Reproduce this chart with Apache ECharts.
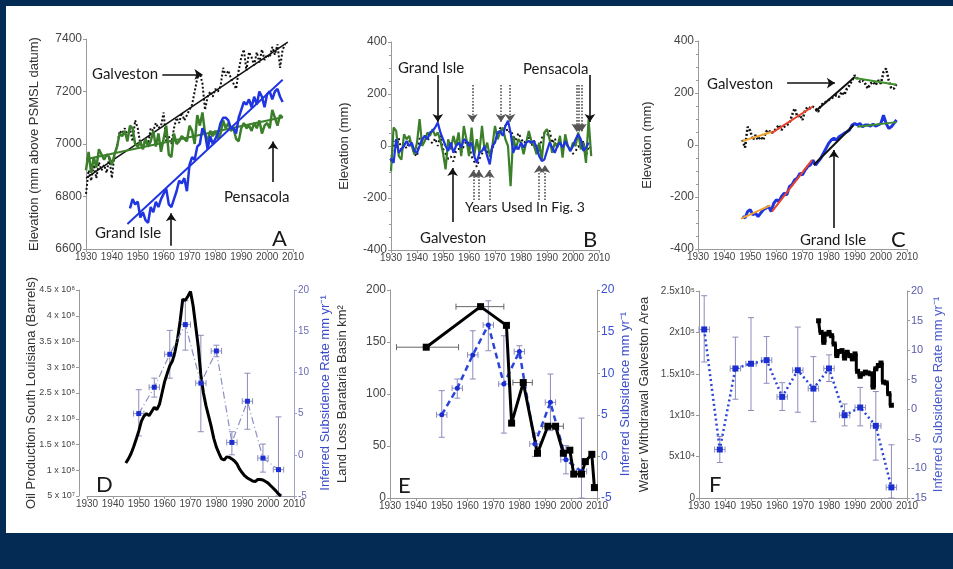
<!DOCTYPE html>
<html>
<head>
<meta charset="utf-8">
<title>Gulf coast subsidence</title>
<script src="https://cdn.jsdelivr.net/npm/echarts@6/dist/echarts.min.js"></script>
<style>
html, body { margin: 0; padding: 0; background: #042b53; }
#paper { position: absolute; left: 6px; top: 6px; width: 947px; height: 527px; background: #fff; }
#main { position: absolute; left: 0; top: 0; width: 953px; height: 569px; }
</style>
</head>
<body>
<div id="paper"></div>
<div id="main"></div>
<script>
// ---- A: annual mean sea level, mm above PSMSL datum ----
var galvStartA = 1930;
var galvestonA = [6810, 6900, 6860, 6920, 6870, 6930, 6900, 6920, 6890, 6950,
  6870, 6960, 6990, 7050, 7040, 7060, 7030, 7060, 7010, 7090,
  7060, 7000, 6990, 7020, 7000, 7060, 7050, 7080, 7060, 7070,
  7120, 7010, 7030, 7000, 7060, 7100, 7080, 7120, 7090, 7110,
  7130, 7150, 7200, 7250, 7270, 7230, 7130, 7180, 7200, 7180,
  7210, 7200, 7220, 7290, 7260, 7280, 7250, 7230, 7210, 7280,
  7330, 7360, 7280, 7350, 7330, 7300, 7350, 7310, 7360, 7320,
  7340, 7330, 7370, 7340, 7380, 7290, 7360, 7380];
var pensStartA = 1930;
var pensacolaA = [6900, 6970, 6890, 6950, 6910, 6980, 6960, 6940, 6960, 6950,
  6920, 6960, 6990, 7040, 7030, 7050, 7010, 7070, 7060, 7000,
  6990, 7010, 6980, 7020, 6990, 7010, 7050, 6990, 7040, 6970,
  7020, 7070, 6960, 6950, 7040, 7000, 7010, 7030, 7020, 7010,
  7070, 7050, 7000, 7110, 7070, 7120, 7040, 7010, 7050, 7030,
  7050, 7020, 7040, 7090, 7060, 7080, 7050, 7060, 7020, 7010,
  7060, 7080, 7060, 7070, 7050, 7080, 7060, 7090, 7040, 7070,
  7080, 7060, 7130, 7100, 7070, 7110, 7100];
var giStartA = 1947;
var grandIsleA = [6755, 6790, 6770, 6780, 6720, 6740, 6710, 6700, 6760, 6740,
  6780, 6760, 6790, 6810, 6830, 6770, 6760, 6790, 6820, 6860,
  6850, 6870, 6820, 6920, 6950, 6940, 6990, 7000, 7060, 7040,
  6980, 7030, 7000, 7020, 7040, 7080, 7100, 7100, 7090, 7060,
  7060, 7040, 7100, 7130, 7160, 7150, 7170, 7140, 7180, 7150,
  7200, 7180, 7140, 7190, 7200, 7170, 7200, 7210, 7180, 7160];
var galvTrendA = [[1930, 6870], [2008, 7388]];
var pensTrendA = [[1930, 6942], [2006, 7102]];
var giTrendA = [[1946, 6695], [2006, 7245]];

// ---- B: residuals after removing the trend, mm ----
var resStartB = 1930;
var pensacolaB = [-97, 71, 58, -39, -52, 45, 26, 39, 0, -32,
  13, 103, 0, 19, 52, 39, 65, 39, 52, 19,
  -26, -90, 26, -13, 39, 0, 52, -39, 77, 26,
  -39, 71, -39, 26, -26, 77, -19, 13, -39, 0,
  77, 26, 52, 71, 26, 0, -155, 39, -13, 26,
  13, -32, 13, 58, 19, 0, -32, 13, -52, 52,
  65, 26, -26, 13, -6, 39, -45, 45, 0, -19,
  13, 0, 52, -13, 13, -65, 103, -39];
var grandIsleB = [-45, -65, 26, -26, -13, 0, 19, 0, 13, -19,
  -26, 0, 26, 39, 26, 52, 58, 71, 90, 52,
  26, 0, -19, 13, -26, 0, 13, -6, 26, 19,
  0, 13, -39, -65, -26, -19, 0, -39, -71, 0,
  13, 52, 58, 39, 77, 97, 52, -26, 0, -13,
  13, -6, 13, 19, 13, 19, -6, -39, -58, -52,
  -19, 13, -6, -26, 0, 13, -6, 19, 0, -19,
  0, 26, 45, 26, -19, -6, 13];
var galvestonB = [-60, 20, -10, 30, -20, 10, -10, 20, 0, -30,
  -40, 30, 20, 40, 30, 20, 10, 30, 0, 40,
  -10, -30, -50, -40, -60, -20, -10, -25, 0, 20,
  10, -40, -60, -80, -50, -30, -10, -20, -40, -10,
  20, 40, 70, 60, 80, 50, 60, 40, 20, 50,
  30, 10, 20, 40, 0, 20, 0, -20, 30, 50,
  40, 60, 10, 30, 0, 20, -10, 10, 0, -20,
  -30, -20, 0, -10, 20, -40, 0, -10];

// ---- C: elevation with piecewise fits, mm ----
var startC = 1947;
var galvestonC = [20, -10, 70, 55, 19, 38, 19, 32, 19, 51,
  58, 45, 51, 64, 77, 58, 70, 77, 83, 115,
  141, 109, 115, 96, 134, 147, 141, 147, 141, 128,
  153, 160, 166, 173, 179, 185, 192, 185, 204, 192,
  217, 230, 249, 268, 256, 243, 249, 236, 217, 236,
  243, 230, 249, 236, 281, 294, 249, 217, 217, 236];
var grandIsleC = [-275, -281, -256, -249, -268, -262, -275, -262, -249, -243,
  -236, -256, -224, -211, -217, -198, -185, -192, -160, -153,
  -134, -128, -109, -115, -96, -83, -77, -58, -77, -64,
  -51, -32, -13, 6, 19, 26, 19, 32, 38, 45,
  51, 58, 77, 83, 77, 83, 70, 77, 77, 73,
  80, 73, 77, 83, 115, 83, 64, 70, 83, 96];
var galvFitsC = [[[1947, 15], [1958, 50]], [[1958, 45], [1974, 148]], [[1975, 130], [1990, 262]], [[1990, 258], [2006, 232]]];
var giFitsC = [[[1946.5, -283], [1957.7, -232]], [[1958.3, -256], [1973.6, -58]], [[1974.3, -77], [1989.6, 77]], [[1991, 70], [2006, 88]]];

// ---- D: oil production south Louisiana (units of 1e8 barrels) ----
var oilStart = 1945;
var oilProdE8 = [1.14, 1.22, 1.32, 1.45, 1.60, 1.76, 1.95, 2.05, 2.10, 2.06,
  2.14, 2.22, 2.18, 2.28, 2.50, 2.72, 2.88, 3.03, 3.12, 3.30,
  3.55, 3.90, 4.32, 4.30, 4.38, 4.47, 4.20, 3.80, 3.40, 2.85,
  2.50, 2.25, 2.05, 1.85, 1.62, 1.45, 1.33, 1.22, 1.20, 1.26,
  1.25, 1.22, 1.18, 1.12, 1.02, 0.95, 0.89, 0.85, 0.82, 0.79,
  0.78, 0.82, 0.82, 0.81, 0.78, 0.75, 0.70, 0.65, 0.60, 0.54, 0.50];
var oilTickLabels = ['5 x 10\u2077', '1 x 10\u2078', '1.5 x 10\u2078', '2 x 10\u2078', '2.5 x 10\u2078',
  '3 x 10\u2078', '3.5 x 10\u2078', '4 x 10\u2078', '4.5 x 10\u2078'];

// inferred subsidence rate, Grand Isle (D and E), mm/yr
var subsYears = [1950, 1956, 1962, 1968, 1974, 1980, 1986, 1992, 1998, 2004];
var subsRate = [5.0, 8.2, 12.2, 15.8, 8.7, 12.6, 1.5, 6.5, -0.4, -1.8];
var subsLo = [2.3, 7.0, 9.3, 12.7, 2.8, 11.9, 0.0, 3.1, -2.1, -5.0];
var subsHi = [7.9, 9.3, 15.1, 18.7, 14.5, 13.3, 2.8, 9.9, 1.3, 4.6];
var subsHalfYr = 2;

// ---- E: land loss Barataria basin, km2 ----
var lossYears = [1944, 1965, 1975, 1977, 1981.5, 1987, 1991, 1994, 1997, 1999.5, 2001, 2004, 2005.5, 2008, 2009];
var lossKm2 = [145, 184, 166, 72, 111, 43, 69, 69, 43, 46, 23, 23, 35, 42, 10];
var lossErrX = [1944, 1965, 1981.5, 1993];
var lossErrY = [145, 184, 111, 69];
var lossErrFrom = [1932.5, 1955.5, 1977.5, 1989];
var lossErrTo = [1956.5, 1974, 1985, 1997];

// ---- F: water withdrawal Galveston area (thousands) ----
var wdStart = 1976;
var withdrawalK = [214, 200, 188, 198, 200, 196, 186, 172, 177, 178,
  169, 176, 172, 168, 174, 153, 147, 150, 152, 151,
  150, 134, 156, 160, 163, 140, 139, 126, 112];
var wdTickLabels = ['0', '5x10\u2074', '1x10\u2075', '1.5x10\u2075', '2x10\u2075', '2.5x10\u2075'];

// inferred subsidence rate, Galveston, mm/yr
var gsYears = [1932, 1938, 1944, 1950, 1956, 1962, 1968, 1974, 1980, 1986, 1992, 1998, 2004];
var gsRate = [13.5, -6.8, 6.9, 7.7, 8.3, 2.1, 6.6, 3.5, 6.9, -1.0, 0.3, -2.8, -13.2];
var gsLo = [8.0, -9.0, 1.7, -0.2, 4.4, -0.2, -0.5, -2.1, 4.7, -2.8, -2.8, -8.6, -15.0];
var gsHi = [19.2, -4.6, 12.2, 15.5, 12.3, 4.5, 13.9, 8.9, 9.2, 0.9, 3.7, 3.0, -6.0];

var FONT = '"Liberation Sans", Arial, sans-serif';
var NOTE_FONT = 'Lato, "Open Sans", sans-serif';
var AXIS = '#9a9a9a';

function pairs(start, vals) {
  return vals.map(function (v, i) { return [start + i, v]; });
}
function zip(xs, ys) {
  return xs.map(function (x, i) { return [x, ys[i]]; });
}
function plain(v) { return String(v); }

function xAx(g) {
  return {
    type: 'value', gridIndex: g, min: 1930, max: 2010, interval: 10,
    axisLine: { show: true, onZero: false, lineStyle: { color: AXIS } },
    axisTick: { show: true, length: 3, lineStyle: { color: AXIS } },
    axisLabel: { fontSize: 10, color: '#444', fontFamily: FONT, margin: 3, hideOverlap: false, formatter: plain },
    splitLine: { show: false }
  };
}

function yAx(g, o) {
  return {
    type: 'value', gridIndex: g, position: o.pos || 'left', offset: o.offset || 0,
    min: o.min, max: o.max, interval: o.step,
    name: o.name, nameLocation: 'middle', nameGap: o.gap, nameRotate: 90, nameMoveOverlap: false,
    nameTextStyle: { fontSize: 13, color: o.nameColor || '#333', fontFamily: FONT },
    axisLine: { show: true, onZero: false, lineStyle: { color: o.lineColor || AXIS } },
    axisTick: { show: true, length: 3, lineStyle: { color: o.lineColor || AXIS } },
    minorTick: { show: !!o.minor, splitNumber: 4, length: 2, lineStyle: { color: AXIS } },
    axisLabel: { fontSize: o.fs || 12, color: o.labelColor || '#444', fontFamily: FONT, margin: 4,
      formatter: o.fmt || plain, hideOverlap: false },
    splitLine: { show: false }
  };
}

function line(g, yi, data, color, width, type, extra) {
  var s = {
    type: 'line', xAxisIndex: g, yAxisIndex: yi, data: data, showSymbol: false, silent: true,
    lineStyle: { color: color, width: width, type: type || 'solid' },
    itemStyle: { color: color }
  };
  for (var k in extra) s[k] = extra[k];
  return s;
}

function arrows(list, color, type) {
  return {
    silent: true, symbol: ['none', 'arrow'], symbolSize: 8, label: { show: false },
    lineStyle: { color: color, width: 1.6, type: type },
    emphasis: { disabled: true },
    data: list.map(function (a) { return [{ coord: [a[0], a[1]] }, { coord: [a[2], a[3]] }]; })
  };
}

function errSeries(g, yi, rows, color) {
  return {
    type: 'custom', xAxisIndex: g, yAxisIndex: yi, silent: true, data: rows,
    renderItem: function (params, api) {
      var x = api.value(0), y = api.value(1);
      var st = { stroke: color, lineWidth: 1 };
      var kids = [];
      function seg(x1, y1, x2, y2) {
        kids.push({ type: 'line', shape: { x1: x1, y1: y1, x2: x2, y2: y2 }, style: st });
      }
      if (api.value(2) !== api.value(3)) {
        var a = api.coord([x, api.value(2)]), b = api.coord([x, api.value(3)]);
        seg(a[0], a[1], b[0], b[1]);
        seg(a[0] - 3, a[1], a[0] + 3, a[1]);
        seg(b[0] - 3, b[1], b[0] + 3, b[1]);
      }
      var l = api.coord([api.value(4), y]), r = api.coord([api.value(5), y]);
      seg(l[0], l[1], r[0], r[1]);
      seg(l[0], l[1] - 3, l[0], l[1] + 3);
      seg(r[0], r[1] - 3, r[0], r[1] + 3);
      return { type: 'group', children: kids };
    }
  };
}

var subsRows = subsYears.map(function (yr, i) {
  return [yr, subsRate[i], subsLo[i], subsHi[i], yr - subsHalfYr, yr + subsHalfYr];
});
var gsRows = gsYears.map(function (yr, i) {
  return [yr, gsRate[i], gsLo[i], gsHi[i], yr - subsHalfYr, yr + subsHalfYr];
});
var lossRows = lossErrX.map(function (yr, i) {
  return [yr, lossErrY[i], lossErrY[i], lossErrY[i], lossErrFrom[i], lossErrTo[i]];
});

var GREEN = '#3b7f2a', BLUE = '#1f35e0', DBLUE = '#2a45d8', ERR = '#8c8cbc';
var fitColors = ['#f2a130', '#e8432c', '#111111', '#3f8f2c'];

var series = [];
// A
series.push(line(0, 0, pairs(galvStartA, galvestonA), '#111', 2, [2, 2]));
series.push(line(0, 0, galvTrendA, '#111', 1.5));
series.push(line(0, 0, pairs(pensStartA, pensacolaA), GREEN, 2.5));
series.push(line(0, 0, pensTrendA, GREEN, 2));
series.push(line(0, 0, pairs(giStartA, grandIsleA), BLUE, 2.5));
series.push(line(0, 0, giTrendA, BLUE, 2, 'solid', {
  markLine: arrows([[1959.5, 7265, 1975, 7265], [2002.3, 6855, 2002.3, 7010], [1962.9, 6612, 1962.9, 6736]], '#111', 'solid')
}));
// B
series.push(line(1, 1, pairs(resStartB, galvestonB), '#111', 2, [2, 3]));
series.push(line(1, 1, pairs(resStartB, pensacolaB), GREEN, 2.2, 'solid', {
  markLine: arrows([[1948, 273, 1948, 92], [2006.5, 273, 2006.5, 92], [1953.7, -292, 1953.7, -85]], '#111', 'solid')
}));
series.push(line(1, 1, pairs(resStartB, grandIsleB), BLUE, 2.2, 'solid', {
  markLine: arrows([[1961.3, 235, 1961.3, 92], [1972.3, 235, 1972.3, 92], [1975.8, 235, 1975.8, 92],
    [2001.4, 235, 2001.4, 55], [2002.4, 235, 2002.4, 55], [2003.3, 235, 2003.3, 55],
    [1961.7, -208, 1961.7, -92], [1963.8, -208, 1963.8, -92], [1967.8, -208, 1967.8, -92],
    [1987, -208, 1987, -73], [1989.2, -208, 1989.2, -73]], '#555', 'dotted')
}));
// C
series.push(line(2, 2, pairs(startC, galvestonC), '#111', 2.5, [2, 2]));
series.push(line(2, 2, pairs(startC, grandIsleC), BLUE, 3));
galvFitsC.forEach(function (f, i) { series.push(line(2, 2, f, fitColors[i], 2)); });
giFitsC.forEach(function (f, i) { series.push(line(2, 2, f, fitColors[i], 2)); });
series.push(line(2, 2, [], '#111', 1, 'solid', {
  markLine: arrows([[1964.1, 238, 1982.4, 238], [1982, -319, 1982, -19]], '#111', 'solid')
}));
// D
series.push(line(3, 3, pairs(oilStart, oilProdE8), '#000', 3));
series.push(errSeries(3, 4, subsRows, ERR));
series.push(line(3, 4, zip(subsYears, subsRate), '#8a8fc4', 1.2, [7, 3, 1, 3], {
  showSymbol: true, showAllSymbol: true, symbol: 'rect', symbolSize: 5, itemStyle: { color: '#1b2fd1' }
}));
// E
series.push(errSeries(4, 6, subsRows, ERR));
series.push(line(4, 6, zip(subsYears, subsRate), DBLUE, 2.5, [6, 4], {
  showSymbol: true, showAllSymbol: true, symbol: 'circle', symbolSize: 5, itemStyle: { color: '#1b2fd1' }
}));
series.push(errSeries(4, 5, lossRows, '#666'));
series.push(line(4, 5, zip(lossYears, lossKm2), '#000', 3, 'solid', {
  showSymbol: true, showAllSymbol: true, symbol: 'rect', symbolSize: 7
}));
// F
series.push(errSeries(5, 8, gsRows, ERR));
series.push(line(5, 8, zip(gsYears, gsRate), DBLUE, 2.5, [2, 3], {
  showSymbol: true, showAllSymbol: true, symbol: 'rect', symbolSize: 6, itemStyle: { color: '#1b2fd1' }
}));
series.push(line(5, 7, pairs(wdStart, withdrawalK), '#000', 3, 'solid', {
  step: 'middle', showSymbol: true, showAllSymbol: true, symbol: 'rect', symbolSize: 5
}));

var notes = [
  [92, 74, 'Galveston', 15], [224, 197, 'Pensacola', 15], [95, 233, 'Grand Isle', 15], [272, 239, 'A', 22],
  [398, 68, 'Grand Isle', 15], [523, 69, 'Pensacola', 15], [420, 238, 'Galveston', 15],
  [465, 207, 'Years Used In Fig. 3', 14], [583, 240, 'B', 22],
  [707, 84, 'Galveston', 15], [800, 240, 'Grand Isle', 15], [891, 240, 'C', 22],
  [96, 485, 'D', 22], [398, 486, 'E', 22], [709, 485, 'F', 22]
];

var chart = echarts.init(document.getElementById('main'));
chart.setOption({
  animation: false,
  backgroundColor: 'transparent',
  grid: [
    { left: 86, top: 39, width: 207, height: 210, outerBoundsMode: 'none' },
    { left: 391, top: 42, width: 208, height: 208, outerBoundsMode: 'none' },
    { left: 698, top: 41, width: 209, height: 208, outerBoundsMode: 'none' },
    { left: 87, top: 290, width: 207, height: 206, outerBoundsMode: 'none' },
    { left: 390, top: 290, width: 207, height: 208, outerBoundsMode: 'none' },
    { left: 699, top: 291, width: 208, height: 207, outerBoundsMode: 'none' }
  ],
  xAxis: [xAx(0), xAx(1), xAx(2), xAx(3), xAx(4), xAx(5)],
  yAxis: [
    yAx(0, { min: 6600, max: 7400, step: 200, name: 'Elevation (mm above PSMSL datum)', gap: 45 }),
    yAx(1, { min: -400, max: 400, step: 200, name: 'Elevation (mm)', gap: 40, minor: true }),
    yAx(2, { min: -400, max: 400, step: 200, name: 'Elevation (mm)', gap: 44, minor: true }),
    yAx(3, { min: 0.5, max: 4.5, step: 0.5, offset: 8, fs: 9, gap: 41,
      name: 'Oil Production South Louisiana (Barrels)',
      fmt: function (v) { return oilTickLabels[Math.round(v * 2) - 1]; } }),
    yAx(3, { pos: 'right', min: -5, max: 20, step: 5, fs: 10, gap: 25,
      labelColor: '#6b6bb0', lineColor: '#a0a0cc', nameColor: '#3b4cc8',
      name: 'Inferred Subsidence Rate mm yr\u207B\u00B9' }),
    yAx(4, { min: 0, max: 200, step: 50, gap: 41, name: 'Land Loss Barataria Basin km\u00B2' }),
    yAx(4, { pos: 'right', min: -5, max: 20, step: 5, gap: 22,
      labelColor: '#3b50d0', nameColor: '#3b4cc8', name: 'Inferred Subsidence mm yr\u207B\u00B9' }),
    yAx(5, { min: 0, max: 250, step: 50, fs: 10, gap: 48, name: 'Water Withdrawal Galveston Area',
      fmt: function (v) { return wdTickLabels[Math.round(v / 50)]; } }),
    yAx(5, { pos: 'right', min: -15, max: 20, step: 5, fs: 11, gap: 25,
      labelColor: '#5a5aa8', nameColor: '#4a5ac8', name: 'Inferred Subsidence Rate mm yr\u207B\u00B9' })
  ],
  graphic: notes.map(function (n) {
    return {
      type: 'text', x: n[0], y: n[1], silent: true,
      style: { text: n[2], fontSize: n[3], fontFamily: NOTE_FONT, fill: '#1a1a1a', verticalAlign: 'middle' }
    };
  }),
  series: series
});
</script>
</body>
</html>
